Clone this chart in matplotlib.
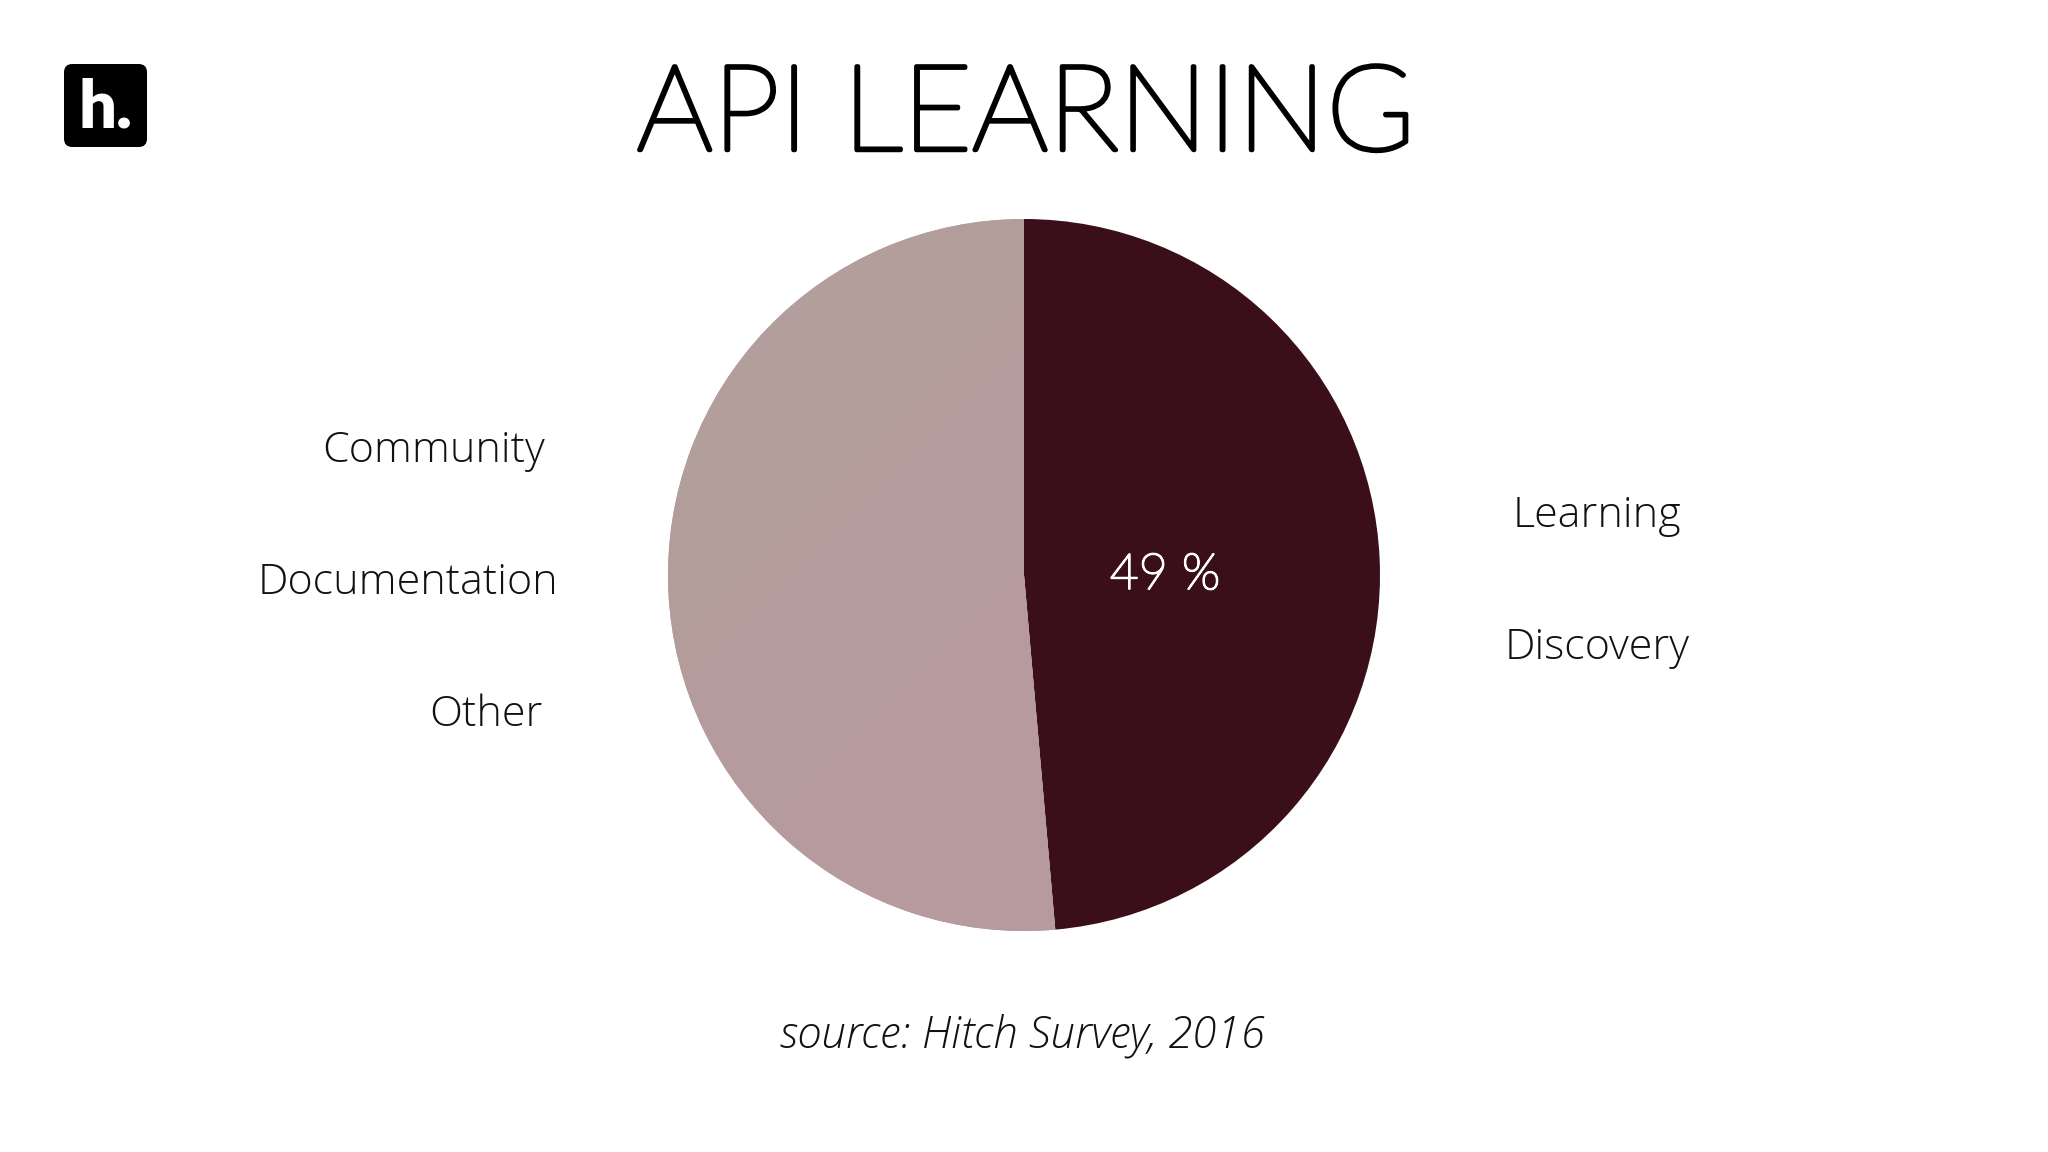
import numpy as np
import matplotlib.pyplot as plt
import matplotlib.patheffects as pe
from matplotlib.patches import FancyBboxPatch
from matplotlib.colors import LinearSegmentedColormap

title = 'API LEARNING'
source = 'source: Hitch Survey, 2016'
slice_values = [48.6, 51.4]
slice_colors = ['#3a0f1a', '#b59c9c']
pct_label = '49 %'
left_labels = ['Community', 'Documentation', 'Other']
right_labels = ['Learning', 'Discovery']

W, H = 2048, 1152
fig = plt.figure(figsize=(W / 100, H / 100), dpi=100)
fig.patch.set_facecolor('white')

def fx(px):
    return px / W

def fy(py):
    return 1 - py / H

# pie
cx, cy, r = 1024, 575, 356
ax = fig.add_axes([fx(cx - r), fy(cy + r), 2 * r / W, 2 * r / H])
wedges, _ = ax.pie(slice_values, colors=slice_colors, startangle=90,
                   counterclock=False, radius=1,
                   wedgeprops=dict(linewidth=0))
ax.set_xlim(-1, 1)
ax.set_ylim(-1, 1)
ax.set_aspect('equal')
ax.axis('off')

# soft gradient on the light slice
cmap = LinearSegmentedColormap.from_list('g', ['#b1a09a', '#b69b9d', '#b99a9e'])
gx, gy = np.meshgrid(np.linspace(0, 1, 200), np.linspace(0, 1, 200))
grad = (gx + gy) / 2
im = ax.imshow(grad, extent=(-1, 1, -1, 1), origin='upper', cmap=cmap, zorder=2)
im.set_clip_path(wedges[1])

# texts (thin Lato thickened a little with a stroke)
fig.text(fx(1026), fy(150), title, ha='center', va='baseline',
         fontsize=86, family='Lato', fontweight='light', color='black',
         path_effects=[pe.withStroke(linewidth=3.2, foreground='black')])

left_right_edge = [545, 558, 543]
for i, lab in enumerate(left_labels):
    fig.text(fx(left_right_edge[i]), fy(462 + i * 132), lab, ha='right',
             va='baseline', fontsize=31, family='Open Sans',
             fontweight='light', color='#111111')

for i, lab in enumerate(right_labels):
    fig.text(fx(1597), fy(527 + i * 132), lab, ha='center', va='baseline',
             fontsize=31, family='Open Sans', fontweight='light', color='#111111')

fig.text(fx(1165), fy(589), pct_label, ha='center', va='baseline',
         fontsize=36, family='Lato', fontweight='light', color='white',
         path_effects=[pe.withStroke(linewidth=1.4, foreground='white')])

fig.text(fx(1022), fy(1047), source, ha='center', va='baseline',
         fontsize=31.5, family='Open Sans', fontweight='light', style='italic',
         color='#111111')

# logo
lax = fig.add_axes([fx(64), fy(147), 83 / W, 83 / H])
lax.set_xlim(0, 1)
lax.set_ylim(0, 1)
lax.axis('off')
lax.add_patch(FancyBboxPatch((0.06, 0.06), 0.88, 0.88,
                             boxstyle='round,pad=0.06,rounding_size=0.1',
                             facecolor='black', edgecolor='none'))
lax.text(0.5, 0.47, 'h.', ha='center', va='center', fontsize=48,
         family='Lato', fontweight='heavy', color='white')

fig.savefig('out.png', dpi=100, facecolor='white')
